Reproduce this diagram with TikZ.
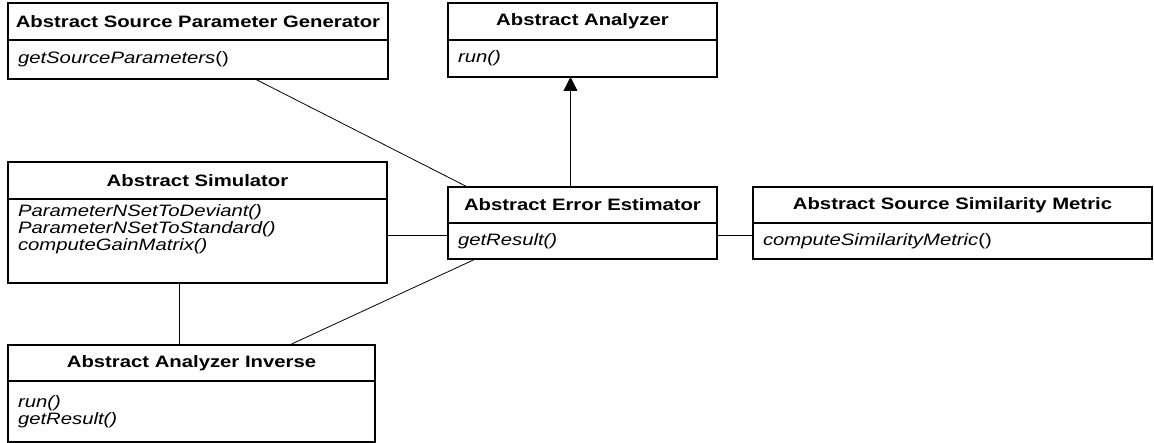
\documentclass[tikz,border=0pt]{standalone}
\usepackage{fontspec}
\setmainfont{Liberation Sans}[FakeStretch=1.23]
\usepackage{tikz}
\usetikzlibrary{positioning, arrows.meta}

\newcommand{\umlsize}{\fontsize{16.5}{17}\selectfont}

\tikzset{
  classname/.style={draw, line width=1.1pt, font=\umlsize\bfseries, minimum width=#1,
    minimum height=37pt, inner sep=0pt, outer sep=0pt, anchor=north west},
  classops/.style={draw, line width=1.1pt, font=\umlsize, align=left, text width=#1,
    inner xsep=10pt, inner ysep=6pt, outer sep=0pt},
  link/.style={line width=0.8pt},
  inherit/.style={link, -{Triangle[width=14pt, length=14pt]}}
}

\begin{document}
\begin{tikzpicture}[x=1pt, y=-1pt, node distance=0pt]
    \useasboundingbox (0,0) rectangle (1154,443);
    % classes
    \node [classname=380pt] (gen) at (8,3) {Abstract Source Parameter Generator};
    \node [classops=360pt, minimum height=39pt, below=of gen] (genops) {\textit{getSourceParameters}()};
    \node [classname=269pt] (ana) at (448,3) {Abstract Analyzer};
    \node [classops=249pt, minimum height=37pt, below=of ana] (anaops) {\textit{run()}};
    \node [classname=379pt] (sim) at (8,162) {Abstract Simulator};
    \node [classops=359pt, text depth=60pt, below=of sim] (simops) {\textit{ParameterNSetToDeviant()}\\\textit{ParameterNSetToStandard()}\\\textit{computeGainMatrix()}};
    \node [classname=269pt, minimum height=36pt] (est) at (448,187) {Abstract Error Estimator};
    \node [classops=249pt, minimum height=36pt, below=of est] (estops) {\textit{getResult()}};
    \node [classname=399pt, minimum height=36pt] (met) at (753,187) {Abstract Source Similarity Metric};
    \node [classops=379pt, minimum height=36pt, below=of met] (metops) {\textit{computeSimilarityMetric}()};
    \node [classname=367pt, minimum height=36pt] (inv) at (8,345) {Abstract Analyzer Inverse};
    \node [classops=347pt, minimum height=61pt, below=of inv] (invops) {\textit{run()}\\\textit{getResult()}};
    % connectors
    \draw [inherit] ([xshift=-12pt]est.north) -- ([xshift=-12pt]anaops.south);
    \draw [link] ([xshift=57pt]genops.south) -- ([xshift=-115pt]est.north);
    \draw [link] ([yshift=6pt]estops.west -| simops.east) -- ([yshift=6pt]estops.west);
    \draw [link] ([yshift=6pt]estops.east) -- ([yshift=6pt]metops.west);
    \draw [link] ([xshift=-18pt]simops.south) -- ([xshift=-18pt]simops.south |- inv.north);
    \draw [link] ([xshift=-107pt]estops.south) -- ([xshift=98pt]inv.north);
\end{tikzpicture}
\end{document}
